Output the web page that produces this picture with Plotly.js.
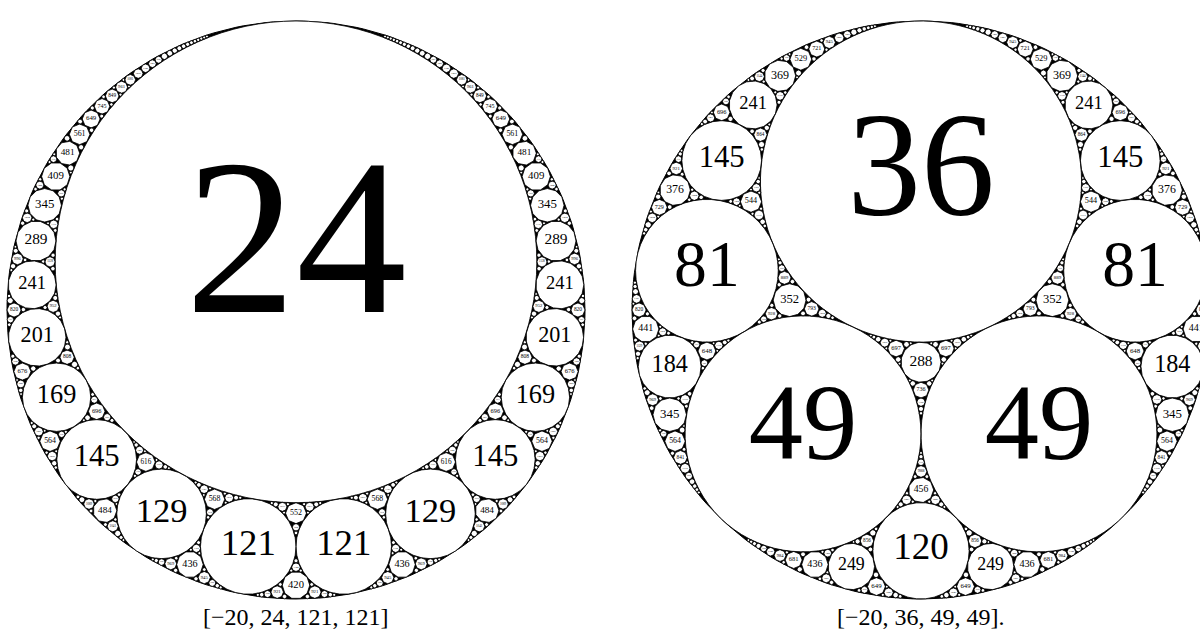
<!DOCTYPE html>
<html>
<head>
<meta charset="utf-8">
<script src="https://cdn.plot.ly/plotly-3.0.1.min.js"></script>
<style>html,body{margin:0;padding:0;background:#fff;}#chart{width:1200px;height:641px;}</style>
</head>
<body>
<div id="chart"></div>
<script>
// ---- data: Descartes root quadruples (curvatures) and captions ----
const leftRoot = [-20, 24, 121, 121];
const rightRoot = [-20, 36, 49, 49];
const captions = ['[\u221220, 24, 121, 121]', '[\u221220, 36, 49, 49].'];

// ---- style / layout constants ----
const PX = 5780;            // pixels per unit length
const CX = [296, 921];      // gasket centres (px)
const CY = 310;
const KMAX = 4200;          // smallest circle drawn
const KLABEL = 1800;        // largest curvature that still gets a label
const FONT = 'Liberation Serif, Times New Roman, serif';

function gasket(root) {
  const R = -1 / root[0];
  const out = [];
  const c0 = {k: root[0], x: 0, y: 0};
  const r1 = 1 / root[1], r2 = 1 / root[2];
  const c1 = {k: root[1], x: 0, y: R - r1};
  const yy = -Math.sqrt((R - r2) * (R - r2) - r2 * r2);
  const c2 = {k: root[2], x: r2, y: yy};
  const c3 = {k: root[3], x: -r2, y: yy};
  out.push(c1, c2, c3);
  function next(a, b, c, d) {
    const k = 2 * (a.k + b.k + c.k) - d.k;
    const x = (2 * (a.k * a.x + b.k * b.x + c.k * c.x) - d.k * d.x) / k;
    const y = (2 * (a.k * a.y + b.k * b.y + c.k * c.y) - d.k * d.y) / k;
    return {k, x, y};
  }
  function rec(a, b, c, d) {
    const tri = [[b, c, a], [a, c, b], [a, b, c]];
    for (const [p, q, old] of tri) {
      const n = next(p, q, d, old);
      if (n.k > KMAX || out.length > 80000) continue;
      out.push(n);
      rec(p, q, d, n);
    }
  }
  const quad = [c0, c1, c2, c3];
  for (let i = 0; i < 4; i++) {
    const o = quad.filter((_, j) => j !== i);
    const n = next(o[0], o[1], o[2], quad[i]);
    if (n.k > KMAX) continue;
    out.push(n);
    rec(o[0], o[1], o[2], n);
  }
  return {R, circles: out};
}

const traces = [];
const annotations = [];
[leftRoot, rightRoot].forEach((root, gi) => {
  const g = gasket(root);
  const ox = (CX[gi] - CX[0]) / PX;
  // outer disk (black background)
  const bx = [], by = [];
  for (let i = 0; i <= 240; i++) {
    const t = 2 * Math.PI * i / 240;
    bx.push(ox + g.R * Math.cos(t)); by.push(g.R * Math.sin(t));
  }
  traces.push({x: bx, y: by, mode: 'lines', fill: 'toself', fillcolor: '#000',
    line: {color: '#000', width: 1}, hoverinfo: 'skip', type: 'scatter'});
  // white inner circles
  const cx = [], cy = [];
  const tx = [], ty = [], tt = [], ts = [];
  for (const c of g.circles) {
    const r = 1 / c.k;
    const rp = r * PX;
    const n = Math.max(8, Math.min(120, Math.ceil(rp * 0.7)));
    for (let i = 0; i <= n; i++) {
      const t = 2 * Math.PI * i / n;
      cx.push(ox + c.x + r * Math.cos(t)); cy.push(c.y + r * Math.sin(t));
    }
    cx.push(null); cy.push(null);
    if (c.k <= KLABEL) {
      const s = String(c.k);
      const f = s.length <= 2 ? 0.92 : (s.length === 3 ? 0.77 : 0.58);
      tx.push(ox + c.x); ty.push(c.y + 0.02 * r); tt.push(s); ts.push(rp * f);
    }
  }
  traces.push({x: cx, y: cy, mode: 'lines', fill: 'toself', fillcolor: '#fff',
    line: {color: '#000', width: 0.8, simplify: false}, connectgaps: false,
    hoverinfo: 'skip', type: 'scatter'});
  traces.push({x: tx, y: ty, text: tt, mode: 'text', textposition: 'middle center',
    textfont: {family: FONT, size: ts, color: '#000'}, hoverinfo: 'skip', type: 'scatter',
    cliponaxis: true});
  annotations.push({x: ox, y: -(617 - CY) / PX, xref: 'x', yref: 'y', text: captions[gi],
    showarrow: false, font: {family: FONT, size: 24, color: '#000'}, xanchor: 'center', yanchor: 'middle'});
});

const layout = {
  width: 1200, height: 641,
  margin: {l: 0, r: 0, t: 0, b: 0, pad: 0},
  paper_bgcolor: '#fff', plot_bgcolor: '#fff',
  showlegend: false,
  xaxis: {range: [-CX[0] / PX, (1200 - CX[0]) / PX], visible: false, fixedrange: true},
  yaxis: {range: [-(641 - CY) / PX, CY / PX], visible: false, fixedrange: true},
  annotations: annotations
};
Plotly.newPlot('chart', traces, layout, {staticPlot: true, displayModeBar: false});
</script>
</body>
</html>
